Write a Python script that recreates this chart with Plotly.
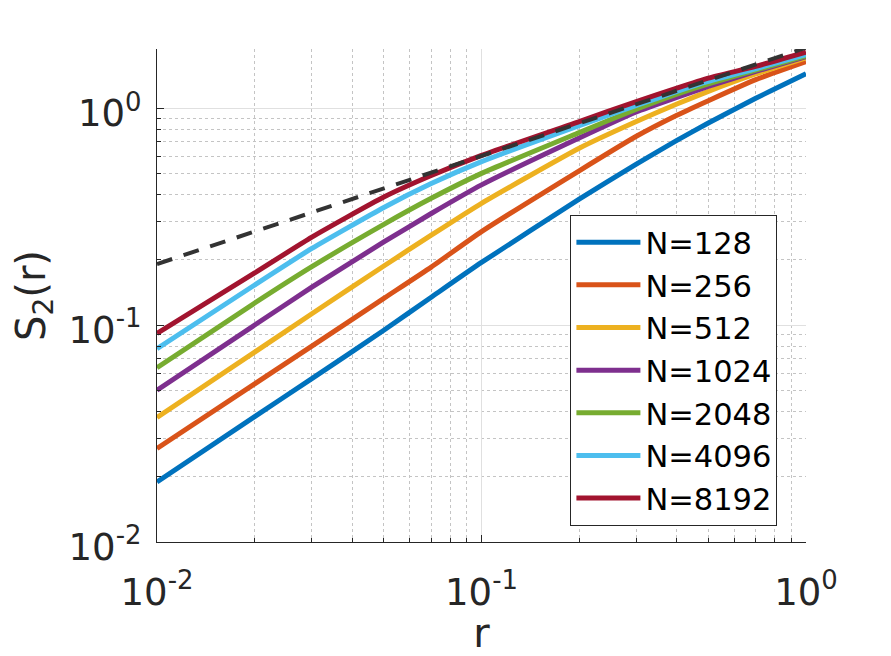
import plotly.graph_objects as go

r = [0.01, 0.02, 0.03, 0.05, 0.07, 0.1, 0.2, 0.3, 0.4, 0.5, 0.7, 1.0]

s2_n128 = [0.01892, 0.03784, 0.05662, 0.09462, 0.1343, 0.1943, 0.3802, 0.5521, 0.7096, 0.8531, 1.109, 1.439]
s2_n256 = [0.02698, 0.05358, 0.07998, 0.1327, 0.1849, 0.2695, 0.5140, 0.7413, 0.9268, 1.0814, 1.3521, 1.6368]
s2_n512 = [0.0375, 0.07506, 0.1127, 0.1871, 0.2594, 0.3639, 0.6531, 0.8670, 1.0447, 1.1940, 1.4355, 1.7022]
s2_n1024 = [0.05012, 0.1000, 0.1494, 0.2415, 0.3266, 0.4426, 0.7278, 0.9594, 1.1194, 1.2580, 1.4757, 1.7246]
s2_n2048 = [0.06353, 0.1263, 0.1858, 0.2911, 0.3837, 0.5000, 0.7709, 0.9886, 1.1603, 1.2942, 1.4962, 1.7418]
s2_n4096 = [0.07773, 0.1530, 0.2254, 0.3483, 0.4487, 0.5662, 0.8299, 1.0280, 1.1929, 1.3267, 1.5182, 1.7620]
s2_n8192 = [0.09155, 0.1738, 0.2542, 0.3890, 0.4887, 0.6053, 0.8670, 1.0715, 1.2368, 1.3740, 1.5560, 1.8091]

series_names = ["N=128", "N=256", "N=512", "N=1024", "N=2048", "N=4096", "N=8192"]
series_values = [s2_n128, s2_n256, s2_n512, s2_n1024, s2_n2048, s2_n4096, s2_n8192]
colors = ["#0072BD", "#D95319", "#EDB120", "#7E2F8E", "#77AC30", "#4DBEEE", "#A2142F"]

ref_r = [0.01, 1.0]
ref_s2 = [0.191, 1.898]

tick_vals = [0.01, 0.1, 1]
tick_text = ["10<sup>-2</sup>", "10<sup>-1</sup>", "10<sup>0</sup>"]

FONT = "DejaVu Sans"
TXT = "#262626"

fig = go.Figure()
for name, vals, col in zip(series_names, series_values, colors):
    fig.add_trace(go.Scatter(x=r, y=vals, mode="lines", name=name,
                             line=dict(color=col, width=5, shape="spline", smoothing=0.5)))
fig.add_trace(go.Scatter(x=ref_r, y=ref_s2, mode="lines", showlegend=False,
                         line=dict(color="#333333", width=4, dash="16px,12px")))

minor_x = [m * 10 ** k for k in (-2, -1) for m in range(2, 10)]
minor_y = [m * 10 ** k for k in (-2, -1, 0) for m in range(2, 10)]

axis_common = dict(
    type="log",
    tickmode="array",
    tickvals=tick_vals,
    ticktext=tick_text,
    ticks="inside",
    ticklen=7,
    tickwidth=1,
    tickcolor=TXT,
    showline=True,
    linecolor=TXT,
    linewidth=1.2,
    mirror=False,
    showgrid=True,
    gridcolor="#e0e0e0",
    gridwidth=1,
    zeroline=False,
    automargin=False,
    tickfont=dict(family=FONT, size=37, color=TXT),
)

# page body has an 8px margin, so the figure is sized to fit the 891x656 window
fig.update_layout(
    width=883, height=648,
    margin=dict(l=149, r=85, t=41, b=114),
    paper_bgcolor="white", plot_bgcolor="white",
    font=dict(family=FONT, color=TXT),
    xaxis=dict(**axis_common, range=[-2, 0],
               minor=dict(tickmode="array", tickvals=minor_x, ticks="inside", ticklen=4,
                          tickcolor=TXT, showgrid=True, gridcolor="#c4c4c4", griddash="dot"),
               title=dict(text="r", font=dict(family=FONT, size=40, color=TXT), standoff=15),
               ticklabelstandoff=17),
    yaxis=dict(**axis_common, range=[-2, 0.2723],
               minor=dict(tickmode="array", tickvals=minor_y, ticks="inside", ticklen=4,
                          tickcolor=TXT, showgrid=True, gridcolor="#c4c4c4", griddash="dot"),
               title=dict(text="S<sub>2</sub>(r)", font=dict(family=FONT, size=40, color=TXT), standoff=22),
               ticklabelstandoff=7, ticklabelshift=5),
    legend=dict(x=0.637, y=0.6635, xanchor="left", yanchor="top",
                bgcolor="white", bordercolor=TXT, borderwidth=1,
                font=dict(family=FONT, size=30.5, color="black"),
                itemwidth=64, tracegroupgap=0),
    showlegend=True,
)

fig.write_html("out.html")
